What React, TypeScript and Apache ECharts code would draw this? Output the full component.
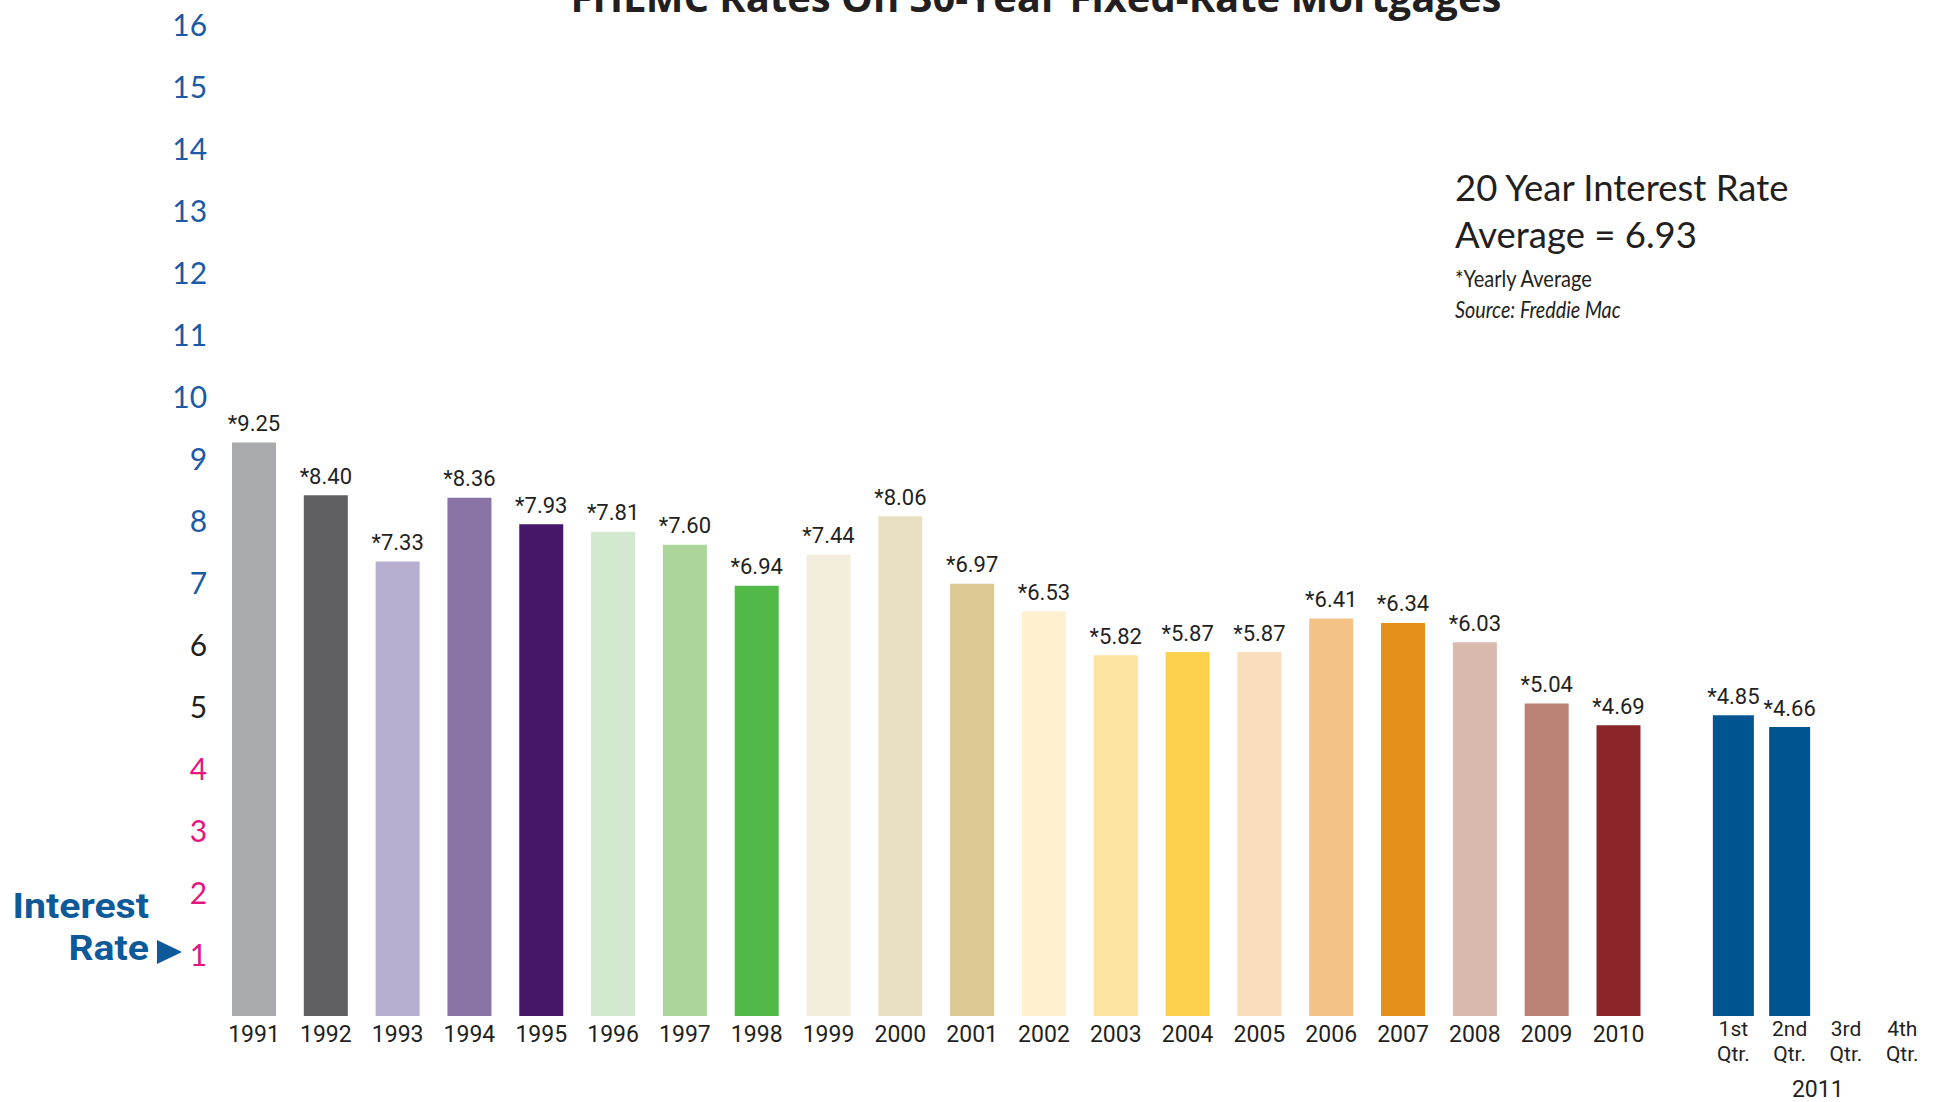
import React, { useEffect, useRef } from "react";
import * as echarts from "echarts";

const chartTitle = "FHLMC Rates On 30-Year Fixed-Rate Mortgages";
const years = [
  "1991", "1992", "1993", "1994", "1995", "1996", "1997", "1998", "1999", "2000",
  "2001", "2002", "2003", "2004", "2005", "2006", "2007", "2008", "2009", "2010",
];
const yearRates = [
  9.25, 8.4, 7.33, 8.36, 7.93, 7.81, 7.6, 6.94, 7.44, 8.06,
  6.97, 6.53, 5.82, 5.87, 5.87, 6.41, 6.34, 6.03, 5.04, 4.69,
];
const yearColors = [
  "#a9aaae", "#5f5f62", "#b8aecf", "#8a74a5", "#461669", "#d3e9cf", "#acd59b", "#52b848", "#f3eddd", "#e9e0c2",
  "#dbc893", "#fff1d0", "#fee4a3", "#fdd14e", "#f9ddbd", "#f2c287", "#e58f1b", "#d9b9ad", "#b98272", "#8b252a",
];
const quarters = ["1st\nQtr.", "2nd\nQtr.", "3rd\nQtr.", "4th\nQtr."];
const quarterRates: (number | null)[] = [4.85, 4.66, null, null];
const quarterYear = "2011";
const quarterColor = "#00548f";
const yMin = 0;
const yMax = 16;
const yInterval = 1;
const noteLines = ["20 Year Interest Rate", "Average = 6.93"];
const footnote = "*Yearly Average";
const sourceNote = "Source: Freddie Mac";
const axisTitle = ["Interest", "Rate"];

const NARROW = 'Roboto, "Open Sans", sans-serif';
const REG = 'Lato, "Open Sans", sans-serif';
const BOLD = '"Open Sans", "Noto Sans", sans-serif';
const INK = "#231f20";
const BLUE = "#1a5aa6";
const PINK = "#e4157f";
const NAVY = "#0d5a9b";

export default function App() {
  const ref = useRef<HTMLDivElement>(null);
  useEffect(() => {
    if (!ref.current) return;
    const chart = echarts.init(ref.current, undefined, { renderer: "svg" });
    const labelFmt = (p: any) => (p.value == null ? "" : "*" + Number(p.value).toFixed(2));
    const option: any = {
      animation: false,
      backgroundColor: "#ffffff",
      grid: [
        { left: 218.1, right: 287.6, top: 24, bottom: 86, containLabel: false, outerBoundsMode: "none" },
        { left: 1705.2, right: 11.6, top: 24, bottom: 86, containLabel: false, outerBoundsMode: "none" },
      ],
      xAxis: [
        {
          type: "category",
          gridIndex: 0,
          data: years,
          axisLine: { show: false },
          axisTick: { show: false },
          axisLabel: { fontFamily: NARROW, fontSize: 23, color: INK, margin: 7, interval: 0 },
        },
        {
          type: "category",
          gridIndex: 1,
          data: quarters,
          axisLine: { show: false },
          axisTick: { show: false },
          axisLabel: { fontFamily: NARROW, fontSize: 21, lineHeight: 25, color: INK, margin: 0, interval: 0 },
          name: quarterYear,
          nameLocation: "middle",
          nameGap: 62,
          nameTextStyle: { fontFamily: NARROW, fontSize: 23, color: INK },
        },
      ],
      yAxis: [
        {
          type: "value",
          gridIndex: 0,
          min: yMin,
          max: yMax,
          interval: yInterval,
          axisLine: { show: false },
          axisTick: { show: false },
          splitLine: { show: false },
          axisLabel: {
            margin: 11,
            formatter: (v: number) =>
              v === 0 ? "" : v >= 7 ? `{b|${v}}` : v >= 5 ? `{k|${v}}` : `{p|${v}}`,
            rich: {
              b: { color: BLUE, fontFamily: REG, fontSize: 30 },
              k: { color: INK, fontFamily: REG, fontSize: 30 },
              p: { color: PINK, fontFamily: REG, fontSize: 30 },
            },
          },
        },
        {
          type: "value",
          gridIndex: 1,
          min: yMin,
          max: yMax,
          interval: yInterval,
          show: false,
          splitLine: { show: false },
        },
      ],
      series: [
        {
          type: "bar",
          xAxisIndex: 0,
          yAxisIndex: 0,
          barWidth: 44,
          data: yearRates.map((v, i) => ({ value: v, itemStyle: { color: yearColors[i] } })),
          label: {
            show: true,
            position: "top",
            distance: 8,
            formatter: labelFmt,
            fontFamily: NARROW,
            fontSize: 22,
            color: INK,
          },
        },
        {
          type: "bar",
          xAxisIndex: 1,
          yAxisIndex: 1,
          barWidth: 41,
          data: quarterRates.map((v) => ({ value: v, itemStyle: { color: quarterColor } })),
          label: {
            show: true,
            position: "top",
            distance: 8,
            formatter: labelFmt,
            fontFamily: NARROW,
            fontSize: 22,
            color: INK,
          },
        },
      ],
      graphic: [
        {
          type: "text",
          x: 1036,
          y: -4,
          style: { text: chartTitle, fontFamily: BOLD, fontWeight: "bold", fontSize: 40, fill: INK, align: "center", verticalAlign: "middle" },
        },
        {
          type: "text",
          x: 1455,
          y: 187,
          style: { text: noteLines[0], fontFamily: REG, fontSize: 36.5, fill: INK, align: "left", verticalAlign: "middle" },
        },
        {
          type: "text",
          x: 1455,
          y: 234,
          style: { text: noteLines[1], fontFamily: REG, fontSize: 36.5, fill: INK, align: "left", verticalAlign: "middle" },
        },
        {
          type: "text",
          x: 1455,
          y: 278,
          scaleX: 0.87,
          style: { text: footnote, fontFamily: REG, fontSize: 23, fill: INK, align: "left", verticalAlign: "middle" },
        },
        {
          type: "text",
          x: 1455,
          y: 309,
          scaleX: 0.86,
          style: { text: sourceNote, fontFamily: REG, fontStyle: "italic", fontSize: 23, fill: INK, align: "left", verticalAlign: "middle" },
        },
        {
          type: "text",
          x: 149,
          y: 906,
          scaleX: 1.12,
          style: { text: axisTitle[0], fontFamily: "Roboto, sans-serif", fontWeight: "bold", fontSize: 35, lineHeight: 40, fill: NAVY, align: "right", verticalAlign: "middle" },
        },
        {
          type: "text",
          x: 149,
          y: 948,
          scaleX: 1.12,
          style: { text: axisTitle[1], fontFamily: "Roboto, sans-serif", fontWeight: "bold", fontSize: 35, lineHeight: 40, fill: NAVY, align: "right", verticalAlign: "middle" },
        },
        {
          type: "polygon",
          shape: { points: [[157, 940], [182, 952], [157, 964]] },
          style: { fill: NAVY },
        },
      ],
    };
    chart.setOption(option);
    return () => chart.dispose();
  }, []);
  return (
    <div
      ref={ref}
      style={{ position: "fixed", left: 0, top: 0, width: 1942, height: 1102, background: "#fff" }}
    />
  );
}
